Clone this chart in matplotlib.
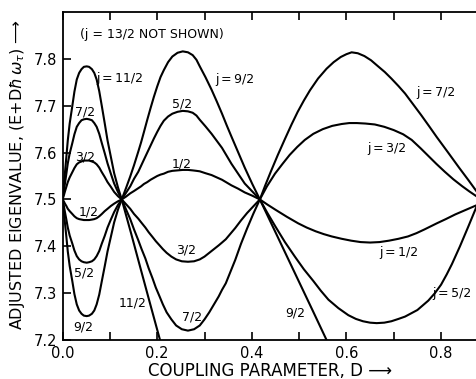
import matplotlib
matplotlib.use("Agg")
import matplotlib.pyplot as plt

plt.rcParams['font.family'] = ['DejaVu Sans']

# ---- data ----
# lobe 1 : D from 0 to 0.125
D1 = [0, 0.0025, 0.005, 0.008, 0.011, 0.015, 0.0205, 0.025, 0.03, 0.035, 0.04, 0.045, 0.051,
      0.056, 0.062, 0.067, 0.072, 0.0775, 0.083, 0.089, 0.095, 0.102, 0.109, 0.117, 0.125]
j11_1 = [7.5, 7.528, 7.557, 7.591, 7.626, 7.662, 7.699, 7.730, 7.756, 7.770, 7.778, 7.783, 7.784,
         7.783, 7.778, 7.770, 7.756, 7.731, 7.699, 7.663, 7.626, 7.591, 7.556, 7.526, 7.5]
j7_1 = [7.5, 7.517, 7.534, 7.555, 7.577, 7.598, 7.620, 7.639, 7.655, 7.663, 7.669, 7.671, 7.672,
        7.671, 7.669, 7.663, 7.655, 7.640, 7.620, 7.599, 7.577, 7.555, 7.534, 7.516, 7.5]
j3_1 = [7.5, 7.508, 7.517, 7.527, 7.537, 7.547, 7.558, 7.567, 7.575, 7.579, 7.581, 7.583, 7.583,
        7.583, 7.581, 7.579, 7.575, 7.568, 7.558, 7.548, 7.537, 7.527, 7.516, 7.507, 7.5]
j1_1 = [7.5, 7.496, 7.491, 7.486, 7.480, 7.475, 7.469, 7.464, 7.460, 7.458, 7.457, 7.456, 7.456,
        7.456, 7.457, 7.458, 7.460, 7.464, 7.469, 7.475, 7.480, 7.486, 7.491, 7.496, 7.5]
j5_1 = [7.5, 7.487, 7.473, 7.457, 7.440, 7.423, 7.406, 7.391, 7.379, 7.372, 7.368, 7.366, 7.365,
        7.366, 7.368, 7.372, 7.379, 7.390, 7.406, 7.422, 7.440, 7.457, 7.473, 7.488, 7.5]
j9_1 = [7.5, 7.475, 7.450, 7.420, 7.389, 7.358, 7.326, 7.298, 7.276, 7.263, 7.256, 7.252, 7.251,
        7.252, 7.256, 7.263, 7.276, 7.297, 7.326, 7.357, 7.389, 7.420, 7.451, 7.478, 7.5]

# lobe 2 : D from 0.125 to 0.417
D2p = [0.125, 0.134, 0.143, 0.151, 0.160, 0.166, 0.172, 0.179, 0.186, 0.193, 0.200, 0.207, 0.214,
       0.223, 0.232, 0.243, 0.254, 0.265, 0.275, 0.283, 0.29, 0.302, 0.315, 0.326, 0.337, 0.347,
       0.357, 0.371, 0.385, 0.401, 0.417]
j9_2 = [7.5, 7.524, 7.549, 7.573, 7.602, 7.622, 7.644, 7.670, 7.695, 7.719, 7.741, 7.761, 7.776,
        7.793, 7.805, 7.813, 7.816, 7.814, 7.808, 7.798, 7.784, 7.761, 7.734, 7.709, 7.683, 7.658,
        7.634, 7.601, 7.568, 7.533, 7.5]
j5_2 = [7.5, 7.514, 7.528, 7.544, 7.559, 7.572, 7.585, 7.600, 7.615, 7.630, 7.644, 7.657, 7.668,
        7.677, 7.683, 7.687, 7.689, 7.688, 7.685, 7.679, 7.670, 7.656, 7.640, 7.625, 7.610, 7.593,
        7.576, 7.555, 7.534, 7.517, 7.5]
j1_2 = [7.5, 7.506, 7.513, 7.518, 7.524, 7.528, 7.533, 7.537, 7.542, 7.546, 7.550, 7.553, 7.555,
        7.559, 7.561, 7.562, 7.563, 7.563, 7.562, 7.561, 7.560, 7.556, 7.552, 7.547, 7.542, 7.536,
        7.530, 7.523, 7.515, 7.508, 7.5]
D2n = [0.125, 0.134, 0.143, 0.151, 0.160, 0.167, 0.175, 0.182, 0.190, 0.197, 0.205, 0.212, 0.220,
       0.23, 0.24, 0.252, 0.265, 0.278, 0.29, 0.30, 0.31, 0.32, 0.33, 0.337, 0.345, 0.355, 0.365,
       0.377, 0.39, 0.403, 0.417]
j3_2 = [7.5, 7.490, 7.480, 7.469, 7.459, 7.450, 7.440, 7.430, 7.420, 7.411, 7.402, 7.394, 7.386,
        7.378, 7.372, 7.368, 7.367, 7.368, 7.372, 7.378, 7.386, 7.394, 7.402, 7.408, 7.415, 7.427,
        7.439, 7.455, 7.471, 7.485, 7.5]
j7_2 = [7.5, 7.479, 7.458, 7.436, 7.413, 7.394, 7.374, 7.353, 7.332, 7.312, 7.293, 7.276, 7.259,
        7.244, 7.231, 7.223, 7.220, 7.223, 7.231, 7.244, 7.259, 7.276, 7.293, 7.307, 7.321, 7.346,
        7.371, 7.405, 7.438, 7.469, 7.5]
D11_2 = [0.125, 0.145, 0.165, 0.187, 0.21]
j11_2 = [7.5, 7.427, 7.352, 7.270, 7.185]

# lobe 3 : D from 0.417 to the right edge
D7_3 = [0.417, 0.428, 0.44, 0.455, 0.47, 0.484, 0.497, 0.51, 0.523, 0.54, 0.558, 0.573, 0.588,
        0.60, 0.611, 0.624, 0.638, 0.652, 0.667, 0.681, 0.695, 0.71, 0.724, 0.741, 0.758, 0.775,
        0.791, 0.815, 0.838, 0.858, 0.876, 0.89]
j7_3 = [7.5, 7.529, 7.559, 7.595, 7.629, 7.660, 7.687, 7.711, 7.733, 7.758, 7.779, 7.793, 7.804,
        7.810, 7.814, 7.812, 7.806, 7.797, 7.784, 7.772, 7.758, 7.742, 7.726, 7.703, 7.680, 7.656,
        7.633, 7.600, 7.568, 7.541, 7.516, 7.497]
D3_3 = [0.417, 0.432, 0.449, 0.465, 0.48, 0.496, 0.512, 0.53, 0.55, 0.57, 0.59, 0.606, 0.622,
        0.64, 0.66, 0.68, 0.70, 0.72, 0.738, 0.757, 0.775, 0.79, 0.808, 0.826, 0.845, 0.86, 0.876, 0.89]
j3_3 = [7.5, 7.528, 7.555, 7.576, 7.595, 7.612, 7.627, 7.640, 7.650, 7.657, 7.661, 7.663, 7.663,
        7.662, 7.660, 7.655, 7.648, 7.639, 7.627, 7.609, 7.591, 7.576, 7.559, 7.543, 7.528, 7.517,
        7.506, 7.497]
D1_3 = [0.417, 0.433, 0.45, 0.474, 0.498, 0.516, 0.535, 0.552, 0.569, 0.59, 0.61, 0.63, 0.65, 0.67,
        0.69, 0.71, 0.730, 0.748, 0.765, 0.791, 0.81, 0.83, 0.853, 0.876, 0.89]
j1_3 = [7.5, 7.489, 7.478, 7.463, 7.449, 7.440, 7.432, 7.426, 7.421, 7.416, 7.412, 7.409, 7.408,
        7.409, 7.412, 7.416, 7.421, 7.428, 7.436, 7.449, 7.458, 7.468, 7.478, 7.488, 7.495]
D5_3 = [0.417, 0.433, 0.45, 0.47, 0.491, 0.51, 0.53, 0.546, 0.562, 0.583, 0.604, 0.62, 0.635, 0.65,
        0.664, 0.68, 0.695, 0.71, 0.724, 0.75, 0.773, 0.787, 0.80, 0.812, 0.823, 0.84, 0.858, 0.876, 0.89]
j5_3 = [7.5, 7.471, 7.442, 7.409, 7.378, 7.351, 7.326, 7.305, 7.286, 7.268, 7.253, 7.245, 7.240,
        7.237, 7.236, 7.237, 7.240, 7.245, 7.250, 7.264, 7.284, 7.300, 7.318, 7.340, 7.362, 7.400,
        7.443, 7.487, 7.521]
D9_3 = [0.417, 0.45, 0.49, 0.53, 0.565]
j9_3 = [7.5, 7.43, 7.345, 7.26, 7.185]

curves = [
    (D1, j11_1), (D1, j7_1), (D1, j3_1), (D1, j1_1), (D1, j5_1), (D1, j9_1),
    (D2p, j9_2), (D2p, j5_2), (D2p, j1_2), (D2n, j3_2), (D2n, j7_2), (D11_2, j11_2),
    (D7_3, j7_3), (D3_3, j3_3), (D1_3, j1_3), (D5_3, j5_3), (D9_3, j9_3),
]

T = "\u2009"
labels = [
    ("(j = 13/2 NOT SHOWN)", 0.189, 7.852),
    ("j" + T + "=" + T + "11/2", 0.121, 7.758),
    ("7/2", 0.047, 7.687),
    ("3/2", 0.047, 7.591),
    ("1/2", 0.056, 7.474),
    ("5/2", 0.045, 7.343),
    ("9/2", 0.043, 7.228),
    ("11/2", 0.147, 7.279),
    ("5/2", 0.252, 7.704),
    ("1/2", 0.252, 7.576),
    ("j" + T + "=" + T + "9/2", 0.3645, 7.756),
    ("3/2", 0.261, 7.392),
    ("7/2", 0.274, 7.249),
    ("j" + T + "=" + T + "7/2", 0.790, 7.728),
    ("j" + T + "=" + T + "3/2", 0.686, 7.608),
    ("j" + T + "=" + T + "1/2", 0.711, 7.386),
    ("j" + T + "=" + T + "5/2", 0.823, 7.300),
    ("9/2", 0.491, 7.258),
]

xticks = [0.0, 0.1, 0.2, 0.3, 0.4, 0.5, 0.6, 0.7, 0.8]
xticklabels = ["0.0", "", "0.2", "", "0.4", "", "0.6", "", "0.8"]
yticks = [7.2, 7.3, 7.4, 7.5, 7.6, 7.7, 7.8]
yticklabels = ["7.2", "7.3", "7.4", "7.5", "7.6", "7.7", "7.8"]

# ---- figure ----
fig = plt.figure(figsize=(4.77, 3.79), dpi=100)
ax = fig.add_axes([0.1312, 0.1029, 0.8688, 0.8654])

for xs, ys in curves:
    ax.plot(xs, ys, color='black', lw=1.5, solid_capstyle='round', solid_joinstyle='round')

for txt, x, y in labels:
    ax.text(x, y, txt, ha='center', va='center', fontsize=9)

ax.set_xlim(0, 0.876)
ax.set_ylim(7.2, 7.9)
ax.set_xticks(xticks)
ax.set_xticklabels(xticklabels)
ax.set_yticks(yticks)
ax.set_yticklabels(yticklabels)
ax.tick_params(axis='both', direction='in', length=6, width=1.2, labelsize=10.5,
               top=True, right=False, pad=4)
for s in ['left', 'top', 'bottom']:
    ax.spines[s].set_linewidth(1.3)
ax.spines['right'].set_visible(False)

ax.set_xlabel("COUPLING PARAMETER, D \u27f6", fontsize=12)
ax.set_ylabel("ADJUSTED EIGENVALUE, (E+D$\\hbar\\,\\omega_\\tau$) \u27f6", fontsize=11.5)
ax.xaxis.set_label_coords(0.5005, -0.068)
ax.yaxis.set_label_coords(-0.085, 0.506)

fig.savefig("out.png", dpi=100)
